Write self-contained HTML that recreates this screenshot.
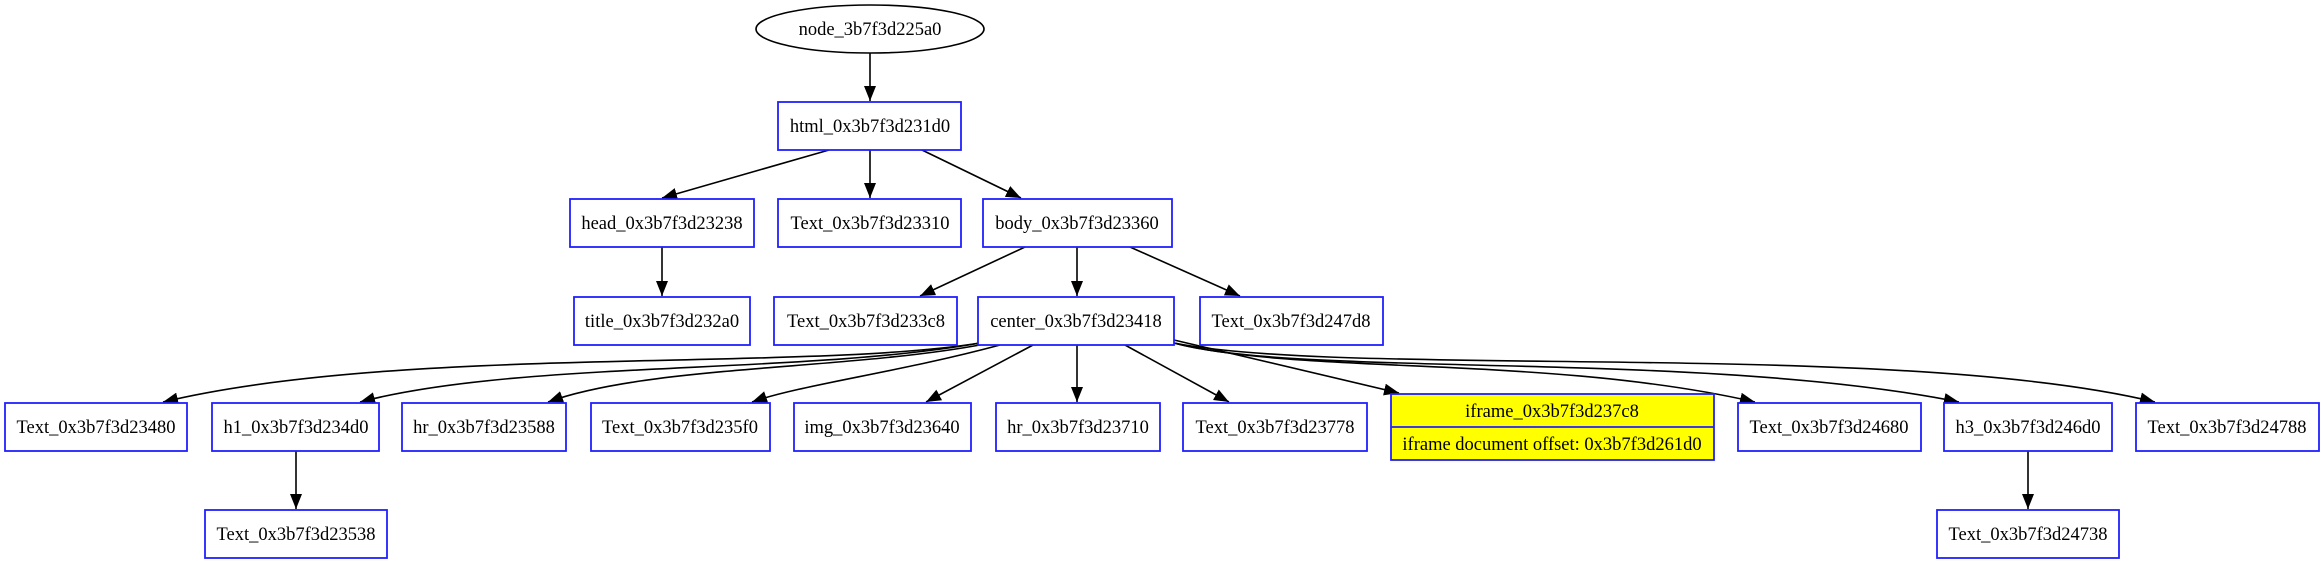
<!DOCTYPE html>
<html><head><meta charset="utf-8"><style>
html,body{margin:0;padding:0;background:#fff;}
svg{display:block;}
text{font-family:"Liberation Serif",serif;font-size:18.5px;fill:#000;}
</style></head><body>
<svg width="2324" height="564" viewBox="0 0 2324 564" xmlns="http://www.w3.org/2000/svg">
<defs>
<marker id="a" markerUnits="userSpaceOnUse" markerWidth="16" markerHeight="12" refX="15" refY="6" orient="auto">
<path d="M0,0 L15,6 L0,12 Z" fill="#000"/>
</marker>
</defs>
<g fill="none" stroke="#000" stroke-width="1.6" marker-end="url(#a)">
<path d="M870,53 L870,101"/>
<path d="M829,150 L662,198"/>
<path d="M870,150 L870,198"/>
<path d="M922,150 L1021,198"/>
<path d="M662,247 L662,296"/>
<path d="M1025,247 L920,296"/>
<path d="M1077,247 L1077,296"/>
<path d="M1130,247 L1240,296"/>
<path d="M980,343 C800,372 400,345 163,402"/>
<path d="M980,343 C800,375 520,360 360,402"/>
<path d="M985,344 C850,370 650,365 548,402"/>
<path d="M1000,345 C900,372 800,385 752,402"/>
<path d="M1033,345 L926,402"/>
<path d="M1077,345 L1077,402"/>
<path d="M1125,345 L1229,402"/>
<path d="M1174,340 L1399,393"/>
<path d="M1174,343 C1300,375 1550,355 1755,402"/>
<path d="M1174,343 C1300,378 1700,350 1959,402"/>
<path d="M1174,343 C1350,378 1900,340 2155,402"/>
<path d="M296,451 L296,509"/>
<path d="M2028,451 L2028,509"/>
</g>
<ellipse cx="870" cy="29" rx="114" ry="24" fill="#fff" stroke="#000" stroke-width="1.6"/>
<text x="870" y="35" text-anchor="middle">node_3b7f3d225a0</text>
<g fill="#fff" stroke="#2020ff" stroke-width="1.8">
<rect x="778" y="102" width="183" height="48"/>
<rect x="570" y="199" width="184" height="48"/>
<rect x="778" y="199" width="183" height="48"/>
<rect x="983" y="199" width="189" height="48"/>
<rect x="574" y="297" width="176" height="48"/>
<rect x="774" y="297" width="183" height="48"/>
<rect x="978" y="297" width="196" height="48"/>
<rect x="1200" y="297" width="183" height="48"/>
<rect x="5" y="403" width="182" height="48"/>
<rect x="212" y="403" width="167" height="48"/>
<rect x="402" y="403" width="164" height="48"/>
<rect x="591" y="403" width="179" height="48"/>
<rect x="794" y="403" width="177" height="48"/>
<rect x="996" y="403" width="164" height="48"/>
<rect x="1183" y="403" width="184" height="48"/>
<rect x="1391" y="394" width="323" height="66" fill="#ffff00"/>
<line x1="1391" y1="427" x2="1714" y2="427"/>
<rect x="1738" y="403" width="183" height="48"/>
<rect x="1944" y="403" width="168" height="48"/>
<rect x="2136" y="403" width="183" height="48"/>
<rect x="205" y="510" width="182" height="48"/>
<rect x="1937" y="510" width="182" height="48"/>
</g>
<g text-anchor="middle">
<text x="870" y="132">html_0x3b7f3d231d0</text>
<text x="662" y="229">head_0x3b7f3d23238</text>
<text x="870" y="229">Text_0x3b7f3d23310</text>
<text x="1077" y="229">body_0x3b7f3d23360</text>
<text x="662" y="327">title_0x3b7f3d232a0</text>
<text x="866" y="327">Text_0x3b7f3d233c8</text>
<text x="1076" y="327">center_0x3b7f3d23418</text>
<text x="1291" y="327">Text_0x3b7f3d247d8</text>
<text x="96" y="433">Text_0x3b7f3d23480</text>
<text x="296" y="433">h1_0x3b7f3d234d0</text>
<text x="484" y="433">hr_0x3b7f3d23588</text>
<text x="680" y="433">Text_0x3b7f3d235f0</text>
<text x="882" y="433">img_0x3b7f3d23640</text>
<text x="1078" y="433">hr_0x3b7f3d23710</text>
<text x="1275" y="433">Text_0x3b7f3d23778</text>
<text x="1552" y="417">iframe_0x3b7f3d237c8</text>
<text x="1552" y="450">iframe document offset: 0x3b7f3d261d0</text>
<text x="1829" y="433">Text_0x3b7f3d24680</text>
<text x="2028" y="433">h3_0x3b7f3d246d0</text>
<text x="2227" y="433">Text_0x3b7f3d24788</text>
<text x="296" y="540">Text_0x3b7f3d23538</text>
<text x="2028" y="540">Text_0x3b7f3d24738</text>
</g>
</svg>
</body></html>
